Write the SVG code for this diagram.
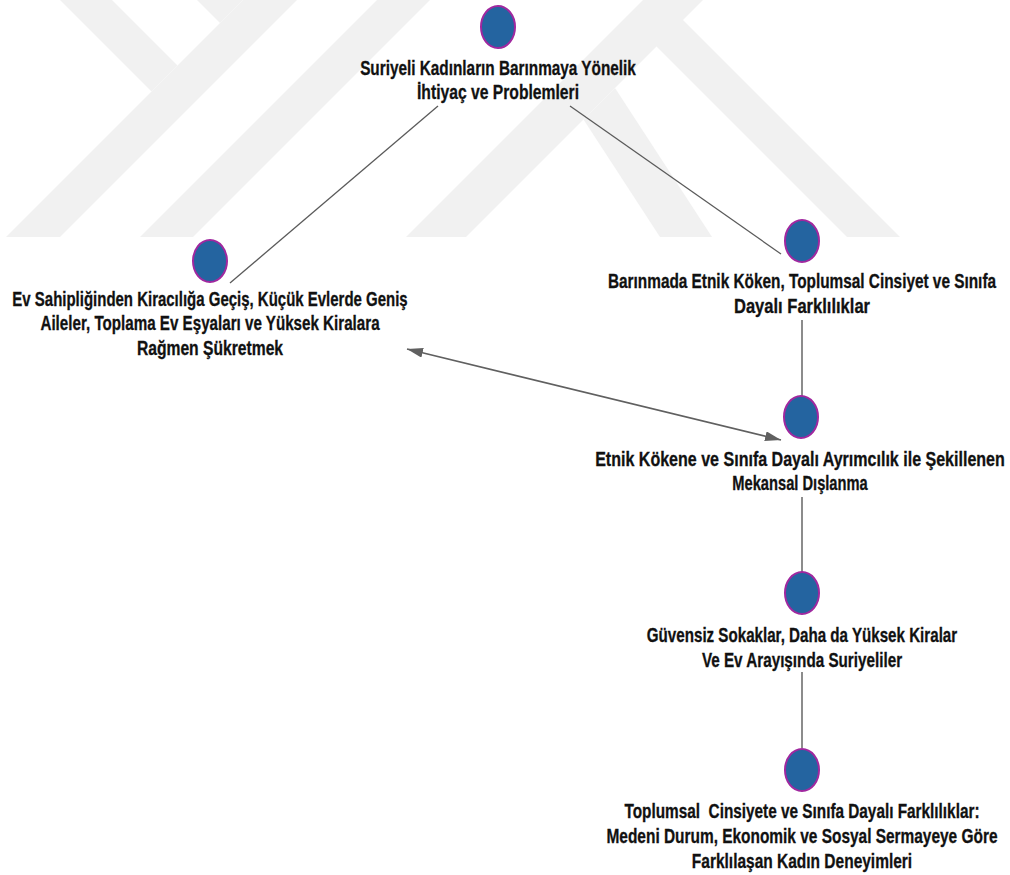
<svg xmlns="http://www.w3.org/2000/svg" width="1010" height="875" viewBox="0 0 1010 875">
<style>
.wm{fill:#f1f1f1;stroke:none}
.node ellipse{fill:#2464a0;stroke:#a0289f;stroke-width:2}
.node text{font-family:"Liberation Sans",Arial,sans-serif;font-weight:bold;font-size:20px;fill:#111;stroke:#111;stroke-width:0.3;text-anchor:middle}
.thin{stroke:#5a5a5a;stroke-width:1.3;fill:none}
.vert{stroke:#8c8c8c;stroke-width:2;fill:none}
.arr{stroke:#606060;stroke-width:1.6;fill:none}
</style>
<defs>
<marker id="ah" viewBox="0 0 16 10" refX="16" refY="5" markerWidth="16" markerHeight="10" markerUnits="userSpaceOnUse" orient="auto-start-reverse">
<path d="M0,0 L16,5 L0,10 z" fill="#606060"/>
</marker>
</defs>
<rect x="0" y="0" width="1010" height="875" fill="#ffffff"/>
<g id="watermark">
<polygon class="wm" points="60,0 112,0 177.5,65.5 151.5,91.5"/>
<polygon class="wm" points="243,0 297,0 60,237 6,237"/>
<polygon class="wm" points="197,0 243,0 220,23"/>
<polygon class="wm" points="377,0 430,0 193,237 140,237"/>
<polygon class="wm" points="643,0 703,0 466,237 406,237"/>
<polygon class="wm" points="626.5,16.5 663,0 900,237 847,237"/>
<polygon class="wm" points="583.5,119.5 615,88 712,237 660,237"/>
</g>
<g id="connectors">
<line class="thin" x1="438" y1="106" x2="230" y2="283"/>
<line class="thin" x1="570" y1="106" x2="781" y2="254"/>
<line class="vert" x1="802" y1="320" x2="802" y2="396"/>
<line class="vert" x1="802" y1="497" x2="802" y2="572"/>
<line class="vert" x1="802" y1="672" x2="802" y2="748"/>
<line class="arr" x1="407" y1="349" x2="781" y2="440" marker-start="url(#ah)" marker-end="url(#ah)"/>
</g>
<g id="n1" class="node">
<ellipse cx="498" cy="27" rx="17" ry="21"/>
<text transform="translate(498,75) scale(0.72,1)" textLength="383" lengthAdjust="spacingAndGlyphs">Suriyeli Kadınların Barınmaya Yönelik</text>
<text transform="translate(498,99) scale(0.72,1)" textLength="225" lengthAdjust="spacingAndGlyphs">İhtiyaç ve Problemleri</text>
</g>
<g id="n2" class="node">
<ellipse cx="210" cy="261" rx="17" ry="21"/>
<text transform="translate(210,306) scale(0.72,1)" textLength="549" lengthAdjust="spacingAndGlyphs">Ev Sahipliğinden Kiracılığa Geçiş, Küçük Evlerde Geniş</text>
<text transform="translate(210,330) scale(0.72,1)" textLength="471" lengthAdjust="spacingAndGlyphs">Aileler, Toplama Ev Eşyaları ve Yüksek Kiralara</text>
<text transform="translate(210,355) scale(0.72,1)" textLength="203" lengthAdjust="spacingAndGlyphs">Rağmen Şükretmek</text>
</g>
<g id="n3" class="node">
<ellipse cx="802" cy="241" rx="17" ry="21"/>
<text transform="translate(802,288) scale(0.72,1)" textLength="539" lengthAdjust="spacingAndGlyphs">Barınmada Etnik Köken, Toplumsal Cinsiyet ve Sınıfa</text>
<text transform="translate(802,313) scale(0.72,1)" textLength="189" lengthAdjust="spacingAndGlyphs">Dayalı Farklılıklar</text>
</g>
<g id="n4" class="node">
<ellipse cx="801" cy="417" rx="17" ry="21"/>
<text transform="translate(800,466) scale(0.72,1)" textLength="569" lengthAdjust="spacingAndGlyphs">Etnik Kökene ve Sınıfa Dayalı Ayrımcılık ile Şekillenen</text>
<text transform="translate(800,490) scale(0.72,1)" textLength="188" lengthAdjust="spacingAndGlyphs">Mekansal Dışlanma</text>
</g>
<g id="n5" class="node">
<ellipse cx="802" cy="593" rx="17" ry="21"/>
<text transform="translate(802,642) scale(0.72,1)" textLength="431" lengthAdjust="spacingAndGlyphs">Güvensiz Sokaklar, Daha da Yüksek Kiralar</text>
<text transform="translate(802,667) scale(0.72,1)" textLength="278" lengthAdjust="spacingAndGlyphs">Ve Ev Arayışında Suriyeliler</text>
</g>
<g id="n6" class="node">
<ellipse cx="802" cy="770" rx="17" ry="21"/>
<text transform="translate(802,818) scale(0.72,1)" textLength="493" lengthAdjust="spacingAndGlyphs" xml:space="preserve">Toplumsal  Cinsiyete ve Sınıfa Dayalı Farklılıklar:</text>
<text transform="translate(802,843) scale(0.72,1)" textLength="543" lengthAdjust="spacingAndGlyphs">Medeni Durum, Ekonomik ve Sosyal Sermayeye Göre</text>
<text transform="translate(802,868) scale(0.72,1)" textLength="306" lengthAdjust="spacingAndGlyphs">Farklılaşan Kadın Deneyimleri</text>
</g>
</svg>
